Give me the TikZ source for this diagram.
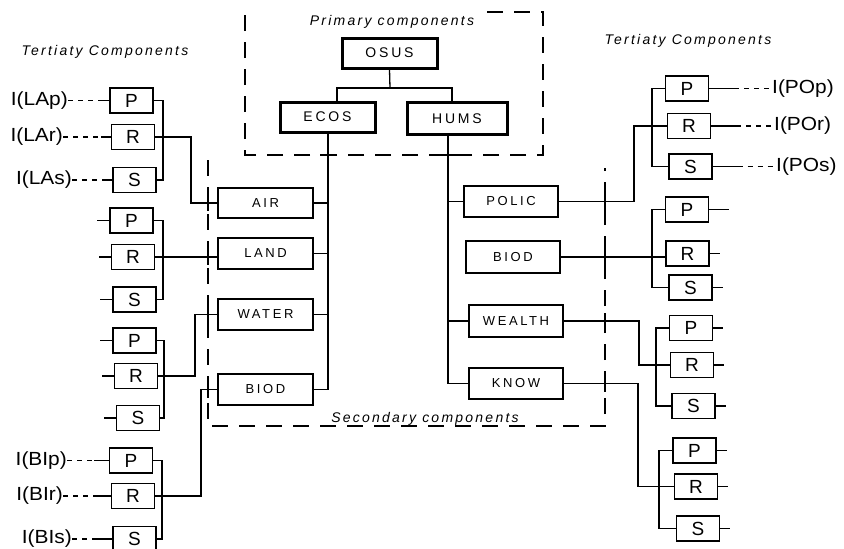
\documentclass[tikz,border=0pt]{standalone}
\usepackage{fontspec}
\setmainfont{Liberation Sans}
\newfontfamily\boxfont[LetterSpace=20]{Liberation Sans}
\newfontfamily\capfont[LetterSpace=16]{Liberation Sans}
\newfontfamily\lblfont[FakeStretch=1.1]{Liberation Sans}
\begin{document}
\begin{tikzpicture}[x=1pt,y=-1pt,
  ln/.style={line width=1.3pt},
  secbox/.style={draw, line width=1.3pt, minimum width=95pt, minimum height=31pt, inner sep=0pt, font=\boxfont\fontsize{13}{13}\selectfont},
  primbox/.style={draw, line width=3pt, minimum width=95pt, minimum height=30pt, inner sep=0pt, font=\boxfont\fontsize{14}{14}\selectfont},
  terbox/.style={draw, line width=1.3pt, minimum width=43pt, minimum height=25pt, inner sep=0pt, font=\fontsize{19}{19}\selectfont},
  lbl/.style={inner sep=0pt, font=\lblfont\fontsize{19}{19}\selectfont},
  captext/.style={inner sep=0pt, font=\capfont\itshape\fontsize{14}{14}\selectfont},
  region/.style={line width=1.3pt, dash pattern=on 16pt off 11pt},
  dots/.style={line width=1.3pt, dash pattern=on 5pt off 5pt}
]
\useasboundingbox (0,0) rectangle (844,549);

% captions
\node[captext] (primcap) at (392,22) {Primary components};
\node[captext] (seccap) at (425,419) {Secondary components};
\node[captext] (tercapl) at (105,52) {Tertiaty Components};
\node[captext] (tercapr) at (688,41) {Tertiaty Components};

% region outlines
\draw[region] (487,12) -- (543,12) -- (543,155) -- (245,155) -- (245,13);
\draw[region] (208,160) -- (208,426) -- (605,426) -- (605,168);

% primary
\node[primbox] (osus) at (389.5,53) {OSUS};
\node[primbox] (ecos) at (327.5,117) {ECOS};
\node[primbox, minimum width=100pt, minimum height=32pt] (hums) at (457,118.5) {HUMS};

% secondary
\node[secbox, minimum height=30pt] (air) at (265.5,203) {AIR};
\node[secbox] (land) at (265.5,253.5) {LAND};
\node[secbox] (water) at (265.5,314.5) {WATER};
\node[secbox] (biod) at (265.5,389.5) {BIOD};
\node[secbox, minimum width=94pt] (polic) at (511,201.5) {POLIC};
\node[secbox, minimum width=94pt, minimum height=32pt] (biodr) at (513,257) {BIOD};
\node[secbox, minimum width=94pt, minimum height=32pt] (wealth) at (516,321) {WEALTH};
\node[secbox, minimum width=94pt] (know) at (516,383.5) {KNOW};

% tertiary left
\node[terbox] (laP) at (131.5,100.5) {P};
\node[terbox] (laR) at (133,137) {R};
\node[terbox] (laS) at (134.5,180) {S};
\node[terbox] (lnP) at (131.5,220.5) {P};
\node[terbox] (lnR) at (133,257) {R};
\node[terbox] (lnS) at (134.5,299.5) {S};
\node[terbox] (waP) at (134.5,340.5) {P};
\node[terbox] (waR) at (136,376) {R};
\node[terbox] (waS) at (138,418) {S};
\node[terbox] (biP) at (131,460.5) {P};
\node[terbox] (biR) at (133,496) {R};
\node[terbox] (biS) at (134.5,539) {S};

% tertiary right
\node[terbox] (poP) at (687,88.5) {P};
\node[terbox] (poR) at (689,126) {R};
\node[terbox] (poS) at (690.5,166.5) {S};
\node[terbox] (brP) at (687,209.5) {P};
\node[terbox] (brR) at (687.5,253.5) {R};
\node[terbox] (brS) at (690.5,287.5) {S};
\node[terbox] (weP) at (691,328) {P};
\node[terbox] (weR) at (692,365) {R};
\node[terbox] (weS) at (693.5,406) {S};
\node[terbox] (knP) at (694.5,450.5) {P};
\node[terbox] (knR) at (696,486.5) {R};
\node[terbox] (knS) at (698,528.5) {S};

% labels
\node[lbl, anchor=east] (lap) at (68,100.5) {I(LAp)};
\node[lbl, anchor=east] (lar) at (63,137) {I(LAr)};
\node[lbl, anchor=east] (las) at (72,180) {I(LAs)};
\node[lbl, anchor=east] (bip) at (67,460.5) {I(BIp)};
\node[lbl, anchor=east] (bir) at (63,496) {I(BIr)};
\node[lbl, anchor=east] (bis) at (72,539) {I(BIs)};
\node[lbl, anchor=west] (pop) at (772,88.5) {I(POp)};
\node[lbl, anchor=west] (por) at (774,126) {I(POr)};
\node[lbl, anchor=west] (pos) at (776,166.5) {I(POs)};

% primary connectors
\coordinate (j0) at (390,88);
\draw[ln] (osus.south) -- (j0);
\draw[ln] ([xshift=9.5pt]ecos.north) |- (j0) -| ([xshift=-5pt]hums.north);

% trunks
\coordinate (tE) at (328,0);
\coordinate (tH) at (448,0);
\draw[ln] (ecos.south -| tE) -- (biod.east -| tE);
\foreach \n in {air,land,water,biod} \draw[ln] (\n.east) -- (\n.east -| tE);
\draw[ln] (hums.south -| tH) -- (know.west -| tH);
\foreach \n in {polic,wealth,know} \draw[ln] (\n.west) -- (\n.west -| tH);

% crossing ticks on region outlines
\foreach \yy in {203,257,314.5,389.5} \draw[ln] (208,\yy-8) -- (208,\yy+8);
\foreach \yy in {201.5,257,321,383.5} \draw[ln] (605,\yy-8) -- (605,\yy+8);
\foreach \xx in {328,448} \draw[ln] (\xx-8,155) -- (\xx+8,155);

% left brackets
\draw[ln] (laP.east) -| (163,140) |- (laS.east);
\draw[ln] (lnP.east) -| (163,260) |- (lnS.east);
\draw[ln] (waP.east) -| (164,380) |- (waS.east);
\draw[ln] (biP.east) -| (162,500) |- (biS.east);

% right brackets
\draw[ln] (poP.west) -| (652,120) |- (poS.west);
\draw[ln] (brP.west) -| (652,250) |- (brS.west);
\draw[ln] (weP.west) -| (656,360) |- (weS.west);
\draw[ln] (knP.west) -| (659,490) |- (knS.west);

% secondary to tertiary
\draw[ln] (laR.east) -| (191,170) |- (air.west);
\draw[ln] (lnR.east) -- (lnR.east -| land.west);
\draw[ln] (waR.east) -| (195,345) |- (water.west);
\draw[ln] (biR.east) -| (201,440) |- (biod.west);
\draw[ln] (polic.east) -| (634,160) |- (poR.west);
\draw[ln] (biodr.east) -- (biodr.east -| brR.west);
\draw[ln] (wealth.east) -| (639,340) |- (weR.west);
\draw[ln] (know.east) -| (638,430) |- (knR.west);

% stubs
\foreach \n in {lnP,lnR,lnS,waP,waR,waS} \draw[ln] (\n.west) -- ++(-12,0);
\draw[ln] (brP.east) -- ++(20,0);
\foreach \n in {brR,brS,weP,weR,weS,knP,knR,knS} \draw[ln] (\n.east) -- ++(10,0);

% labelled stubs, left
\foreach \b/\l in {laP/lap,laR/lar,laS/las} {
  \draw[ln] (\b.west) -- ++(-10,0);
  \draw[dots] (\l.east) -- ([xshift=-10pt]\b.west);
}
\foreach \b/\l in {biP/bip,biR/bir,biS/bis} {
  \draw[ln] (\b.west) -- ++(-15,0);
  \draw[dots] (\l.east) -- ([xshift=-15pt]\b.west);
}
% labelled stubs, right
\foreach \b/\l in {poP/pop,poR/por,poS/pos} {
  \draw[ln] (\b.east) -- ++(25,0);
  \draw[dots] ([xshift=25pt]\b.east) -- (\l.west);
}
\end{tikzpicture}
\end{document}
